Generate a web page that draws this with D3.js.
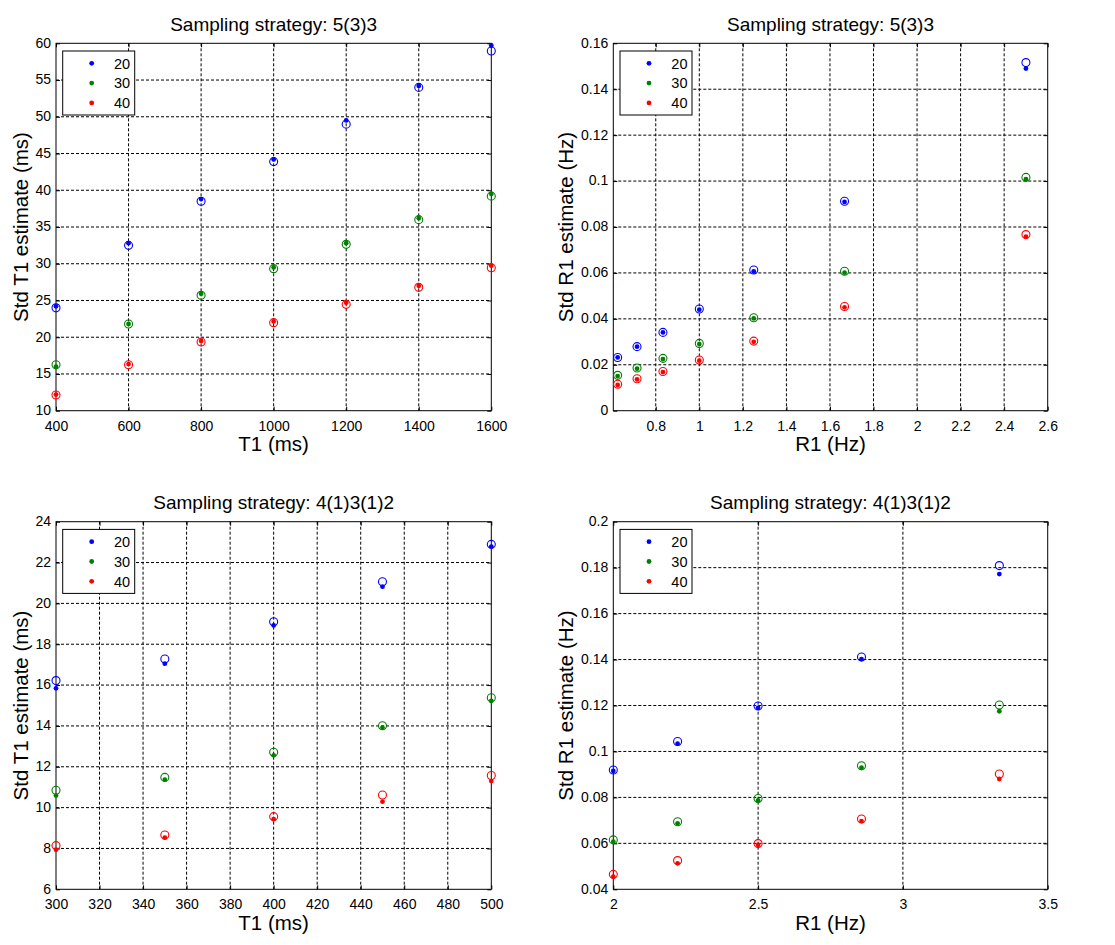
<!DOCTYPE html>
<html><head><meta charset="utf-8">
<script src="https://cdn.jsdelivr.net/npm/d3@7"></script>
<style>
body{margin:0;background:#fff;}
text{font-family:Arial,"Liberation Sans",sans-serif;fill:#000;}
</style></head>
<body><svg id="c" width="1115" height="945"></svg>
<script>
// ---------- data ----------
const seriesNames = ["20","30","40"];
const seriesColors = ["#0000ff","#008000","#ff0000"];

// Panel A: T1 (ms), strategy 5(3)3
const t1A = [400,600,800,1000,1200,1400,1600];
const dotA20 = [24.2,32.8,38.8,44.2,49.5,54.2,59.7];
const dotA30 = [16.0,21.8,25.9,29.5,32.8,36.2,39.5];
const dotA40 = [12.2,16.35,19.5,22.15,24.7,27.0,29.74];
const circA20 = [24.0,32.5,38.5,43.9,49.0,54.0,58.96];
const circA30 = [16.26,21.8,25.7,29.33,32.64,36.0,39.2];
const circA40 = [12.13,16.26,19.35,21.98,24.47,26.79,29.46];
const xTicksA = [400,600,800,1000,1200,1400,1600];
const yTicksA = [10,15,20,25,30,35,40,45,50,55,60];

// Panel B: R1 (Hz), strategy 5(3)3
const r1B = [0.625,0.714,0.833,1.0,1.25,1.667,2.5];
const dotB20 = [0.0232,0.0279,0.0341,0.0440,0.0607,0.0909,0.1490];
const dotB30 = [0.0151,0.0183,0.0225,0.0290,0.0402,0.0601,0.1008];
const dotB40 = [0.0112,0.0136,0.0168,0.0218,0.0300,0.0450,0.0758];
const circB20 = [0.0232,0.0279,0.0341,0.0443,0.0613,0.0912,0.1516];
const circB30 = [0.0154,0.0186,0.0228,0.0293,0.0405,0.0607,0.1016];
const circB40 = [0.0115,0.0139,0.0171,0.0221,0.0303,0.0454,0.0767];
const xTicksB = [0.8,1,1.2,1.4,1.6,1.8,2,2.2,2.4,2.6];
const yTicksB = [0,0.02,0.04,0.06,0.08,0.1,0.12,0.14,0.16];

// Panel C: T1 (ms), strategy 4(1)3(1)2
const t1C = [300,350,400,450,500];
const dotC20 = [15.84,17.05,18.92,20.82,22.78];
const dotC30 = [10.59,11.37,12.56,13.92,15.22];
const dotC40 = [7.94,8.53,9.43,10.29,11.3];
const circC20 = [16.22,17.28,19.1,21.06,22.89];
const circC30 = [10.85,11.48,12.71,14.01,15.38];
const circC40 = [8.14,8.66,9.56,10.62,11.57];
const xTicksC = [300,320,340,360,380,400,420,440,460,480,500];
const yTicksC = [6,8,10,12,14,16,18,20,22,24];

// Panel D: R1 (Hz), strategy 4(1)3(1)2
const r1D = [2.0,2.222,2.5,2.857,3.333];
const dotD20 = [0.0915,0.1034,0.119,0.1402,0.1772];
const dotD30 = [0.0607,0.0687,0.0787,0.0929,0.1175];
const dotD40 = [0.0455,0.0513,0.0593,0.0697,0.088];
const circD20 = [0.0919,0.1043,0.1198,0.1411,0.1809];
const circD30 = [0.0615,0.0694,0.0795,0.0938,0.1202];
const circD40 = [0.0465,0.0525,0.0599,0.0706,0.0902];
const xTicksD = [2,2.5,3,3.5];
const yTicksD = [0.04,0.06,0.08,0.1,0.12,0.14,0.16,0.18,0.2];

const panels = [
  {title:"Sampling strategy: 5(3)3", xl:"T1 (ms)", yl:"Std T1 estimate (ms)",
   x:t1A, dots:[dotA20,dotA30,dotA40], circs:[circA20,circA30,circA40],
   xd:[400,1600], yd:[10,60], xt:xTicksA, yt:yTicksA,
   L:56, R:491.3, T:43.3, B:410.7, titleY:30.7, xlY:451, ylX:20.5},
  {title:"Sampling strategy: 5(3)3", xl:"R1 (Hz)", yl:"Std R1 estimate (Hz)",
   x:r1B, dots:[dotB20,dotB30,dotB40], circs:[circB20,circB30,circB40],
   xd:[0.605,2.6], yd:[0,0.16], xt:xTicksB, yt:yTicksB,
   L:613.3, R:1047.7, T:43.3, B:410.7, titleY:30.7, xlY:451, ylX:566},
  {title:"Sampling strategy: 4(1)3(1)2", xl:"T1 (ms)", yl:"Std T1 estimate (ms)",
   x:t1C, dots:[dotC20,dotC30,dotC40], circs:[circC20,circC30,circC40],
   xd:[300,500], yd:[6,24], xt:xTicksC, yt:yTicksC,
   L:56, R:491.3, T:521.7, B:889.3, titleY:508.5, xlY:930, ylX:20.5},
  {title:"Sampling strategy: 4(1)3(1)2", xl:"R1 (Hz)", yl:"Std R1 estimate (Hz)",
   x:r1D, dots:[dotD20,dotD30,dotD40], circs:[circD20,circD30,circD40],
   xd:[2,3.5], yd:[0.04,0.2], xt:xTicksD, yt:yTicksD,
   L:613.3, R:1047.7, T:521.7, B:889.3, titleY:508.5, xlY:930, ylX:566}
];

const svg = d3.select("#c");
const fmt = d => String(+d.toFixed(4));
const FF = "Arial,'Liberation Sans',sans-serif";

panels.forEach(p => {
  const x = d3.scaleLinear().domain(p.xd).range([p.L,p.R]);
  const y = d3.scaleLinear().domain(p.yd).range([p.B,p.T]);
  const g = svg.append("g");
  const eps = 1e-9;
  // grid
  g.selectAll(".gx").data(p.xt.filter(v => v>p.xd[0]+eps && v<p.xd[1]-eps)).join("line")
    .attr("x1",d=>x(d)).attr("x2",d=>x(d)).attr("y1",p.T).attr("y2",p.B)
    .attr("stroke","#000").attr("stroke-width",1).attr("stroke-dasharray","3,2");
  g.selectAll(".gy").data(p.yt.filter(v => v>p.yd[0]+eps && v<p.yd[1]-eps)).join("line")
    .attr("x1",p.L).attr("x2",p.R).attr("y1",d=>y(d)).attr("y2",d=>y(d))
    .attr("stroke","#000").attr("stroke-width",1).attr("stroke-dasharray","3,2");
  // axes via d3
  const xa = g.append("g").attr("transform",`translate(0,${p.B})`)
    .call(d3.axisBottom(x).tickValues(p.xt).tickSize(-4).tickSizeOuter(0).tickPadding(10).tickFormat(fmt));
  const ya = g.append("g").attr("transform",`translate(${p.L},0)`)
    .call(d3.axisLeft(y).tickValues(p.yt).tickSize(-4).tickSizeOuter(0).tickPadding(5).tickFormat(fmt));
  g.append("g").attr("transform",`translate(0,${p.T})`)
    .call(d3.axisTop(x).tickValues(p.xt).tickSize(-4).tickSizeOuter(0).tickFormat(""));
  g.append("g").attr("transform",`translate(${p.R},0)`)
    .call(d3.axisRight(y).tickValues(p.yt).tickSize(-4).tickSizeOuter(0).tickFormat(""));
  g.selectAll(".domain").remove();
  g.selectAll(".tick line").attr("stroke","#000");
  xa.selectAll("text").attr("font-size",14).attr("font-family",FF).attr("fill","#000");
  ya.selectAll("text").attr("font-size",14).attr("font-family",FF).attr("fill","#000").attr("dy","0.28em");
  // box
  g.append("rect").attr("x",p.L).attr("y",p.T).attr("width",p.R-p.L).attr("height",p.B-p.T)
    .attr("fill","none").attr("stroke","#000").attr("stroke-width",1);
  // data
  seriesNames.forEach((s,i) => {
    const col = seriesColors[i];
    g.selectAll(null).data(p.x.map((v,k)=>[v,p.circs[i][k]])).join("circle")
      .attr("cx",d=>x(d[0])).attr("cy",d=>y(d[1])).attr("r",4)
      .attr("fill","none").attr("stroke",col).attr("stroke-width",1.1);
    g.selectAll(null).data(p.x.map((v,k)=>[v,p.dots[i][k]])).join("circle")
      .attr("cx",d=>x(d[0])).attr("cy",d=>y(d[1])).attr("r",2.4)
      .attr("fill",col);
  });
  // legend
  const lg = g.append("g").attr("transform",`translate(${p.L+6.7},${p.T+7.7})`);
  lg.append("rect").attr("width",72).attr("height",64).attr("fill","#fff").attr("stroke","#000").attr("stroke-width",1);
  seriesNames.forEach((s,i) => {
    const yy = 12.3 + i*19.8;
    lg.append("circle").attr("cx",29).attr("cy",yy).attr("r",2.4).attr("fill",seriesColors[i]);
    lg.append("text").attr("x",67.5).attr("y",yy).attr("dy","0.36em").attr("text-anchor","end")
      .attr("font-size",14.5).text(s);
  });
  // title & labels
  g.append("text").attr("x",(p.L+p.R)/2).attr("y",p.titleY).attr("text-anchor","middle")
    .attr("font-size",19).text(p.title);
  g.append("text").attr("x",(p.L+p.R)/2).attr("y",p.xlY).attr("text-anchor","middle")
    .attr("font-size",20.5).text(p.xl);
  g.append("text").attr("transform",`translate(${p.ylX},${(p.T+p.B)/2}) rotate(-90)`)
    .attr("dy","0.36em").attr("text-anchor","middle").attr("font-size",20.5).text(p.yl);
});
</script></body></html>
